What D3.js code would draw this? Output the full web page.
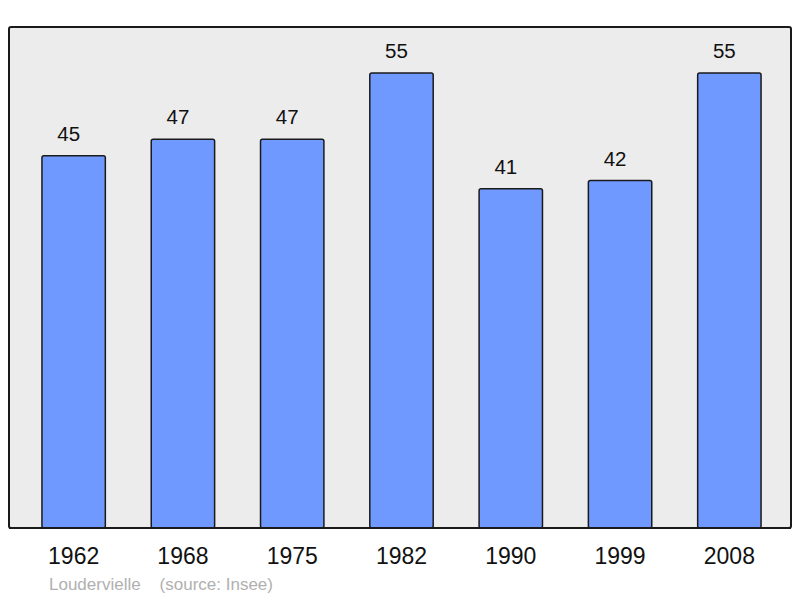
<!DOCTYPE html>
<html>
<head>
<meta charset="utf-8">
<script src="https://cdn.jsdelivr.net/npm/d3@7"></script>
<style>
  body { margin: 0; background: #fff; }
  svg { display: block; font-family: "Liberation Sans", Arial, sans-serif; }
</style>
</head>
<body>
<svg id="chart" width="800" height="598"></svg>
<script>
// population, Loudervielle
var years = ["1962", "1968", "1975", "1982", "1990", "1999", "2008"];
var population = [45, 47, 47, 55, 41, 42, 55];

var svg = d3.select("#chart");

var x = d3.scaleBand()
    .domain(years)
    .range([19, 784])
    .paddingInner(0.42)
    .paddingOuter(0.21);

var y = d3.scaleLinear()
    .domain([0, 55])
    .range([528, 73]);

// background panel
svg.append("rect")
    .attr("x", 9).attr("y", 27)
    .attr("width", 782).attr("height", 501)
    .attr("rx", 2)
    .attr("fill", "#ececec")
    .attr("stroke", "#1a1a1a")
    .attr("stroke-width", 2);

var bars = svg.selectAll(".bar")
    .data(years)
    .enter().append("g")
    .attr("class", "bar");

bars.append("rect")
    .attr("x", function(d){ return x(d); })
    .attr("y", function(d, i){ return y(population[i]); })
    .attr("width", x.bandwidth())
    .attr("height", function(d, i){ return y(0) - y(population[i]); })
    .attr("rx", 2)
    .attr("fill", "#7099ff")
    .attr("stroke", "#1a1a1a")
    .attr("stroke-width", 1.5);

bars.append("text")
    .attr("x", function(d){ return x(d) + x.bandwidth() / 2 - 5; })
    .attr("y", function(d, i){ return y(population[i]) - 15; })
    .attr("text-anchor", "middle")
    .attr("font-size", 20.5)
    .attr("fill", "#111")
    .text(function(d, i){ return population[i]; });

// baseline redraw so it sits over bar bottoms
svg.append("line")
    .attr("x1", 9).attr("x2", 791)
    .attr("y1", 528).attr("y2", 528)
    .attr("stroke", "#1a1a1a")
    .attr("stroke-width", 2);

var xAxis = svg.append("g")
    .attr("transform", "translate(0,528)")
    .call(d3.axisBottom(x).tickSize(0).tickPadding(0));
xAxis.select(".domain").remove();
xAxis.selectAll("text")
    .attr("y", 36)
    .attr("dy", 0)
    .attr("font-size", 23)
    .attr("font-family", "Liberation Sans, Arial, sans-serif")
    .attr("fill", "#111");

svg.append("text")
    .attr("x", 49).attr("y", 590)
    .attr("font-size", 17)
    .attr("fill", "#b0b0b0")
    .attr("xml:space", "preserve")
    .text("Loudervielle    (source: Insee)");
</script>
</body>
</html>
